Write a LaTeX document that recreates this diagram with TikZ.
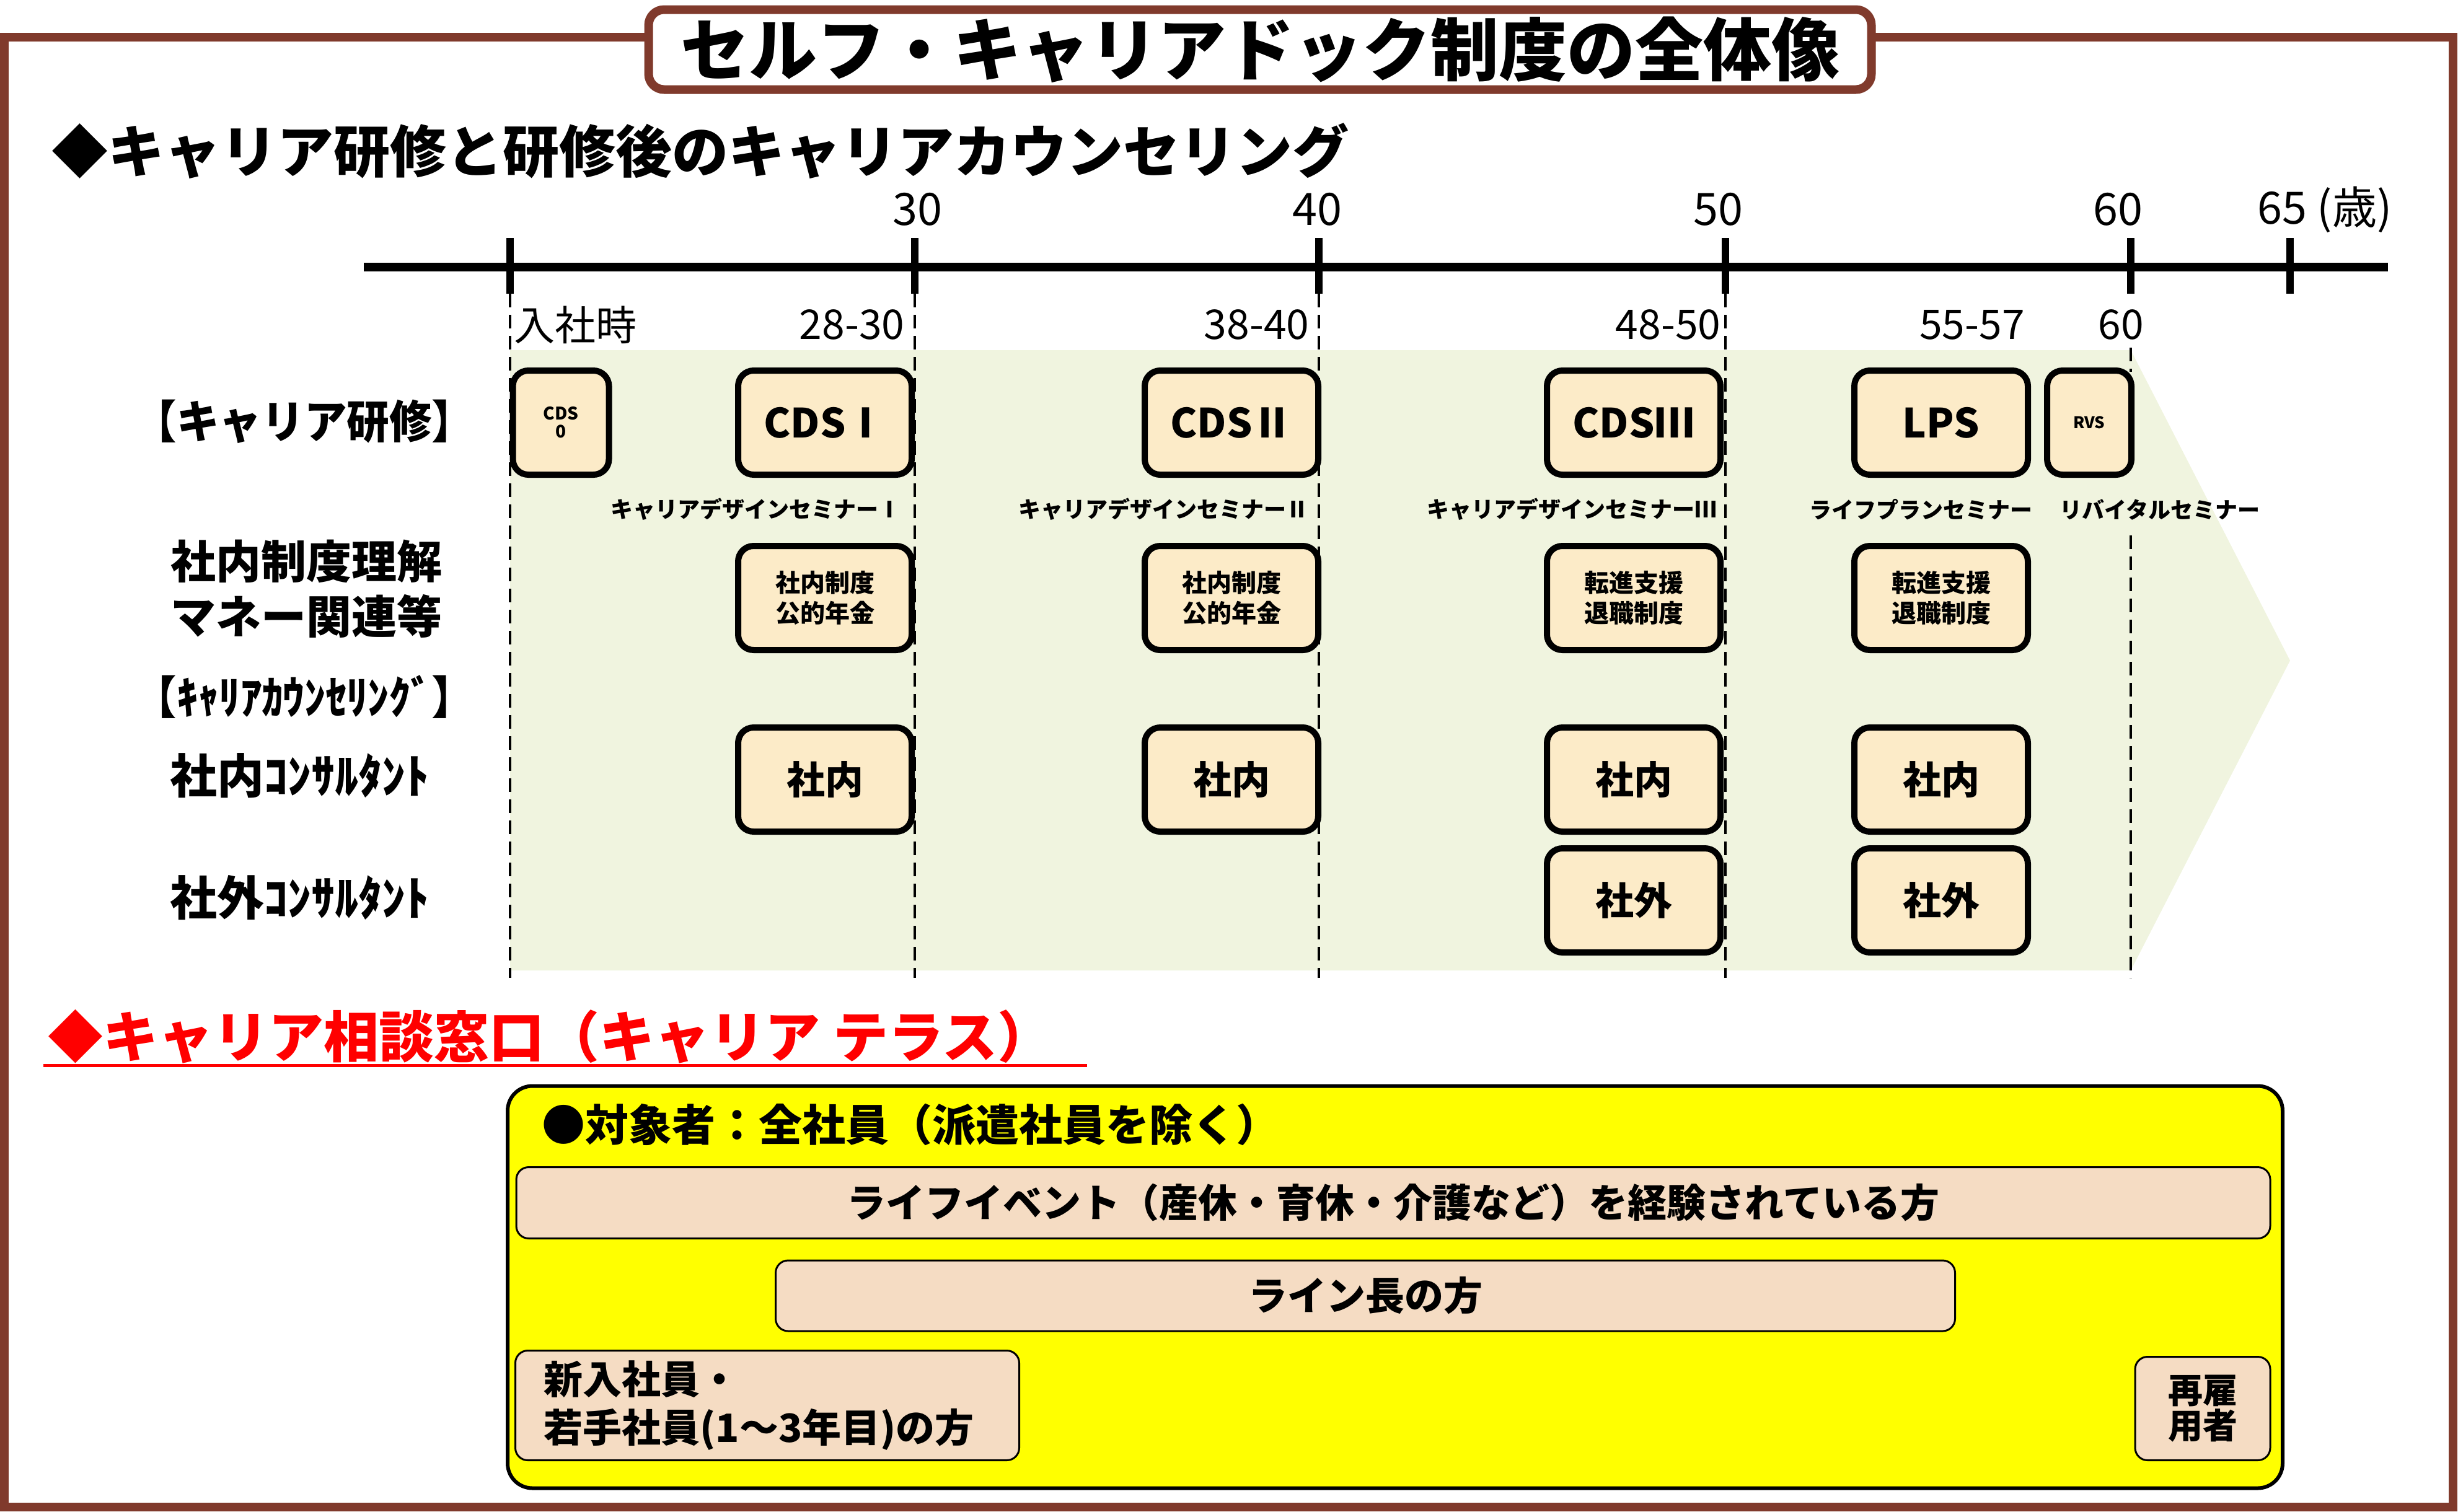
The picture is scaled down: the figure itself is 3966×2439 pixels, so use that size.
\documentclass[tikz,border=0pt]{standalone}
\usepackage{fontspec}
\setmainfont{Noto Sans CJK JP}
\newfontfamily\narrow{Noto Sans CJK JP}[FakeStretch=0.94]
\usetikzlibrary{positioning}

\definecolor{framebrown}{RGB}{128,58,44}
\definecolor{cream}{RGB}{252,235,200}
\definecolor{peach}{RGB}{245,220,195}
\definecolor{paleg}{RGB}{240,244,223}
\definecolor{desky}{RGB}{255,255,0}
\definecolor{alertred}{RGB}{255,0,0}

\newcommand\fsz[2]{\fontsize{#1mm}{#2mm}\selectfont}

\tikzset{
  course/.style={draw, line width=1mm, fill=cream, rounded corners=2.5mm,
    minimum height=16.8mm, inner sep=0pt, font=\bfseries\fsz{6.5}{7}},
  wide/.style={course, minimum width=28mm},
  target/.style={draw, line width=0.3mm, fill=peach, rounded corners=2mm,
    inner sep=0pt, font=\bfseries\fsz{6.3}{7}},
  agetick/.style={line width=1.2mm},
  guide/.style={line width=0.4mm, dash pattern=on 2.2mm off 1.2mm},
  rowlabel/.style={inner sep=0pt, align=center, font=\bfseries\fsz{7.3}{8.9}},
  age/.style={inner sep=0pt, font=\fsz{6.6}{7}},
  seminar/.style={inner sep=0pt, font=\bfseries\fsz{3.6}{4}},
}

\begin{document}
\begin{tikzpicture}[x=0.1mm, y=-0.1mm]
    \useasboundingbox (0,0) rectangle (3966,2439);
    % frame and title
    \draw[framebrown, line width=1.4mm] (7,60) rectangle (3958,2432);
    \node[draw=framebrown, line width=1.4mm, fill=white, rounded corners=2.5mm,
      minimum width=197.3mm, minimum height=12.9mm, inner sep=0pt,
      font=\bfseries\fsz{11}{12}] (title) at (2033,80) {セルフ・キャリアドック制度の全体像};
    \node[anchor=west, inner sep=0pt, font=\bfseries\fsz{9.1}{10}] (coursehead) at (83,244)
      {◆キャリア研修と研修後のキャリアカウンセリング};

    % background arrow
    \fill[paleg] (823,565) -- (3438,565) -- (3695,1066) -- (3438,1566) -- (823,1566) -- cycle;

    % age axis
    \draw[line width=1.4mm] (587,431) -- (3853,431);
    \foreach \x in {823,1476,2128,2784,3438,3695}
        \draw[agetick] (\x,384) -- (\x,474);
    \foreach \x in {823,1476,2128,2784}
        \draw[guide] (\x,474) -- (\x,1578);
    \draw[guide] (3438,561) -- (3438,600);
    \draw[guide] (3438,864) -- (3438,1578);
    \node[age, font=\fsz{7.2}{8}] (a30) at (1480,338) {30};
    \node[age, font=\fsz{7.2}{8}] (a40) at (2125,338) {40};
    \node[age, font=\fsz{7.2}{8}] (a50) at (2772,338) {50};
    \node[age, font=\fsz{7.2}{8}] (a60) at (3417,338) {60};
    \node[age, font=\fsz{7.2}{8}, anchor=west] (a65) at (3642,338) {65 (歳)};
    \node[age, anchor=west] (join) at (829,524) {入社時};
    \node[age, anchor=east] (r30) at (1460,524) {28-30};
    \node[age, anchor=east] (r40) at (2113,524) {38-40};
    \node[age, anchor=east] (r50) at (2777,524) {48-50};
    \node[age] (r57) at (3182,524) {55-57};
    \node[age] (r60) at (3422,524) {60};

    % row labels
    \node[rowlabel, font=\bfseries\narrow\fsz{7.3}{8}] (training) at (491,680) {【キャリア研修】};
    \node[rowlabel] (money) at (494,950) {社内制度理解\\マネー関連等};
    \node[rowlabel, font=\bfseries\narrow\fsz{7.3}{8}] (counsel) at (491,1124) {【ｷｬﾘｱｶｳﾝｾﾘﾝｸﾞ】};
    \node[rowlabel, anchor=west, font=\bfseries\fsz{7.6}{8}] (inner) at (274,1252) {社内ｺﾝｻﾙﾀﾝﾄ};
    \node[rowlabel, anchor=west, font=\bfseries\fsz{7.6}{8}] (outer) at (274,1449) {社外ｺﾝｻﾙﾀﾝﾄ};

    % seminars
    \node[course, minimum width=15.5mm, align=center, font=\bfseries\fsz{2.8}{2.9}] (cds0) at (905,682) {CDS\\0};
    \node[wide] (cds1) at (1331,682) {CDSⅠ};
    \node[wide] (cds2) at (1987,682) {CDSⅡ};
    \node[wide] (cds3) at (2636,682) {CDSⅢ};
    \node[wide] (lps) at (3132,682) {LPS};
    \node[course, minimum width=13.6mm, font=\bfseries\fsz{2.6}{3}] (rvs) at (3371,682) {RVS};
    \node[seminar, anchor=east] (sem1) at (1454,822) {キャリアデザインセミナーⅠ};
    \node[seminar, anchor=east] (sem2) at (2112,822) {キャリアデザインセミナーⅡ};
    \node[seminar, anchor=east] (sem3) at (2771,822) {キャリアデザインセミナーⅢ};
    \node[seminar] (sem4) at (3099,822) {ライフプランセミナー};
    \node[seminar, anchor=west] (sem5) at (3323,822) {リバイタルセミナー};

    % systems and money
    \node[wide, align=center, font=\bfseries\fsz{4}{4.9}] (sys1) at (1331,965) {社内制度\\公的年金};
    \node[wide, align=center, font=\bfseries\fsz{4}{4.9}] (sys2) at (1987,965) {社内制度\\公的年金};
    \node[wide, align=center, font=\bfseries\fsz{4}{4.9}] (sys3) at (2636,965) {転進支援\\退職制度};
    \node[wide, align=center, font=\bfseries\fsz{4}{4.9}] (sys4) at (3132,965) {転進支援\\退職制度};

    % counselling
    \node[wide, font=\bfseries\fsz{6.2}{7}] (in1) at (1331,1258) {社内};
    \node[wide, font=\bfseries\fsz{6.2}{7}] (in2) at (1987,1258) {社内};
    \node[wide, font=\bfseries\fsz{6.2}{7}] (in3) at (2636,1258) {社内};
    \node[wide, font=\bfseries\fsz{6.2}{7}] (in4) at (3132,1258) {社内};
    \node[wide, font=\bfseries\fsz{6.2}{7}] (out3) at (2636,1453) {社外};
    \node[wide, font=\bfseries\fsz{6.2}{7}] (out4) at (3132,1453) {社外};

    % career terrace
    \node[anchor=west, inner sep=0pt, text=alertred, font=\bfseries\fsz{8.9}{9}] (deskhead) at (77,1673)
      {◆キャリア相談窓口（キャリア テラス）};
    \draw[alertred, line width=0.5mm] (70,1719) -- (1754,1719);
    \node[draw, line width=0.6mm, fill=desky, rounded corners=4mm,
      minimum width=286.4mm, minimum height=64.9mm, inner sep=0pt] (desk) at (2251,2077) {};
    \node[anchor=west, inner sep=0pt, font=\bfseries\fsz{7}{8}] (whom) at (874,1815)
      {●対象者：全社員（派遣社員を除く）};
    \node[target, minimum width=283mm, minimum height=11.5mm] (life) at (2248,1941)
      {ライフイベント（産休・育休・介護など）を経験されている方};
    \node[target, minimum width=190.3mm, minimum height=11.4mm] (line) at (2203,2091) {ライン長の方};
    \node[target, text width=72.1mm, inner xsep=4.6mm, minimum height=17.7mm, align=left,
      font=\bfseries\fsz{6.3}{7.8}] (young) at (1238,2268) {新入社員・\\若手社員(1～3年目)の方};
    \node[target, minimum width=21.8mm, minimum height=16.7mm, align=center,
      font=\bfseries\fsz{5.6}{5.1}] (rehire) at (3554,2273) {再雇\\用者};
\end{tikzpicture}
\end{document}
